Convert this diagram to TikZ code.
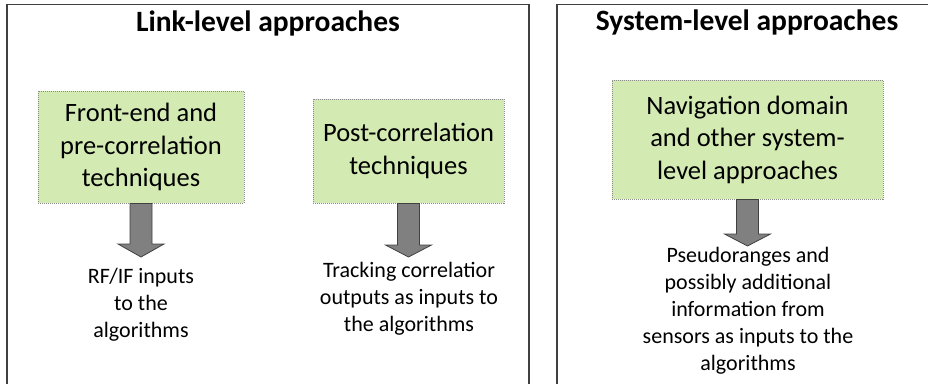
\documentclass[tikz,border=0pt]{standalone}
\usepackage{fontspec}
\setmainfont{Carlito}
\usetikzlibrary{calc}
\definecolor{boxgreen}{HTML}{D3EAB2}
\definecolor{framegray}{HTML}{404040}
\tikzset{
  frameline/.style={draw=framegray, line width=1.6pt},
  title/.style={font=\fontsize{29.5}{36}\selectfont\bfseries, inner sep=0pt},
  greenbox/.style={draw=black!45, densely dotted, line width=1pt, fill=boxgreen,
    align=center, inner sep=0pt, font=\fontsize{26.5}{32.5}\selectfont},
  outtext/.style={align=center, inner sep=0pt, font=\fontsize{22}{27}\selectfont},
  blockarrow/.style={draw=black!75, fill=black!50, line width=0.8pt, line join=miter}
}
\newcommand\blockarr[3]{\draw[blockarrow] let \p1=(#1), \p2=(#2) in
  (\x1-11pt,\y1) -- (\x1+11pt,\y1) -- (\x1+11pt,\y2+#3) -- (\x1+23pt,\y2+#3) --
  (\x1,\y2) -- (\x1-23pt,\y2+#3) -- (\x1-11pt,\y2+#3) -- cycle;}
\begin{document}
\begin{tikzpicture}[x=1pt,y=-1pt]
\useasboundingbox (0,0) rectangle (928,384);
% frames
\draw[frameline] (7,384) -- (7,4.5) -- (529,4.5) -- (529,384);
\draw[frameline] (557,384) -- (557,4.5) -- (928,4.5);
% titles
\node[title] (t1) at (268,23) {Link-level approaches};
\node[title] (t2) at (747,22) {System-level approaches};
% boxes
\node[greenbox, minimum width=206, minimum height=112] (b1) at (141,147)
  {Front-end and\\pre-correlation\\techniques};
\node[greenbox, minimum width=191, minimum height=104] (b2) at (408.5,151)
  {Post-correlation\\techniques};
\node[greenbox, minimum width=271, minimum height=119] (b3) at (747.5,139.5)
  {Navigation domain\\and other system-\\level approaches};
% outputs
\node[outtext] (o1) at (141,305) {RF/IF inputs\\to the\\algorithms};
\node[outtext] (o2) at (409,299) {Tracking correlatior\\outputs as inputs to\\the algorithms};
\node[outtext] (o3) at (748,310.5) {Pseudoranges and\\possibly additional\\information from\\sensors as inputs to the\\algorithms};
% arrow tips
\coordinate (e1) at (141,257);
\coordinate (e2) at (408.5,257);
\coordinate (e3) at (747.5,246);
\blockarr{b1.south}{e1}{13pt}
\blockarr{b2.south}{e2}{12pt}
\blockarr{b3.south}{e3}{12pt}
\end{tikzpicture}
\end{document}
